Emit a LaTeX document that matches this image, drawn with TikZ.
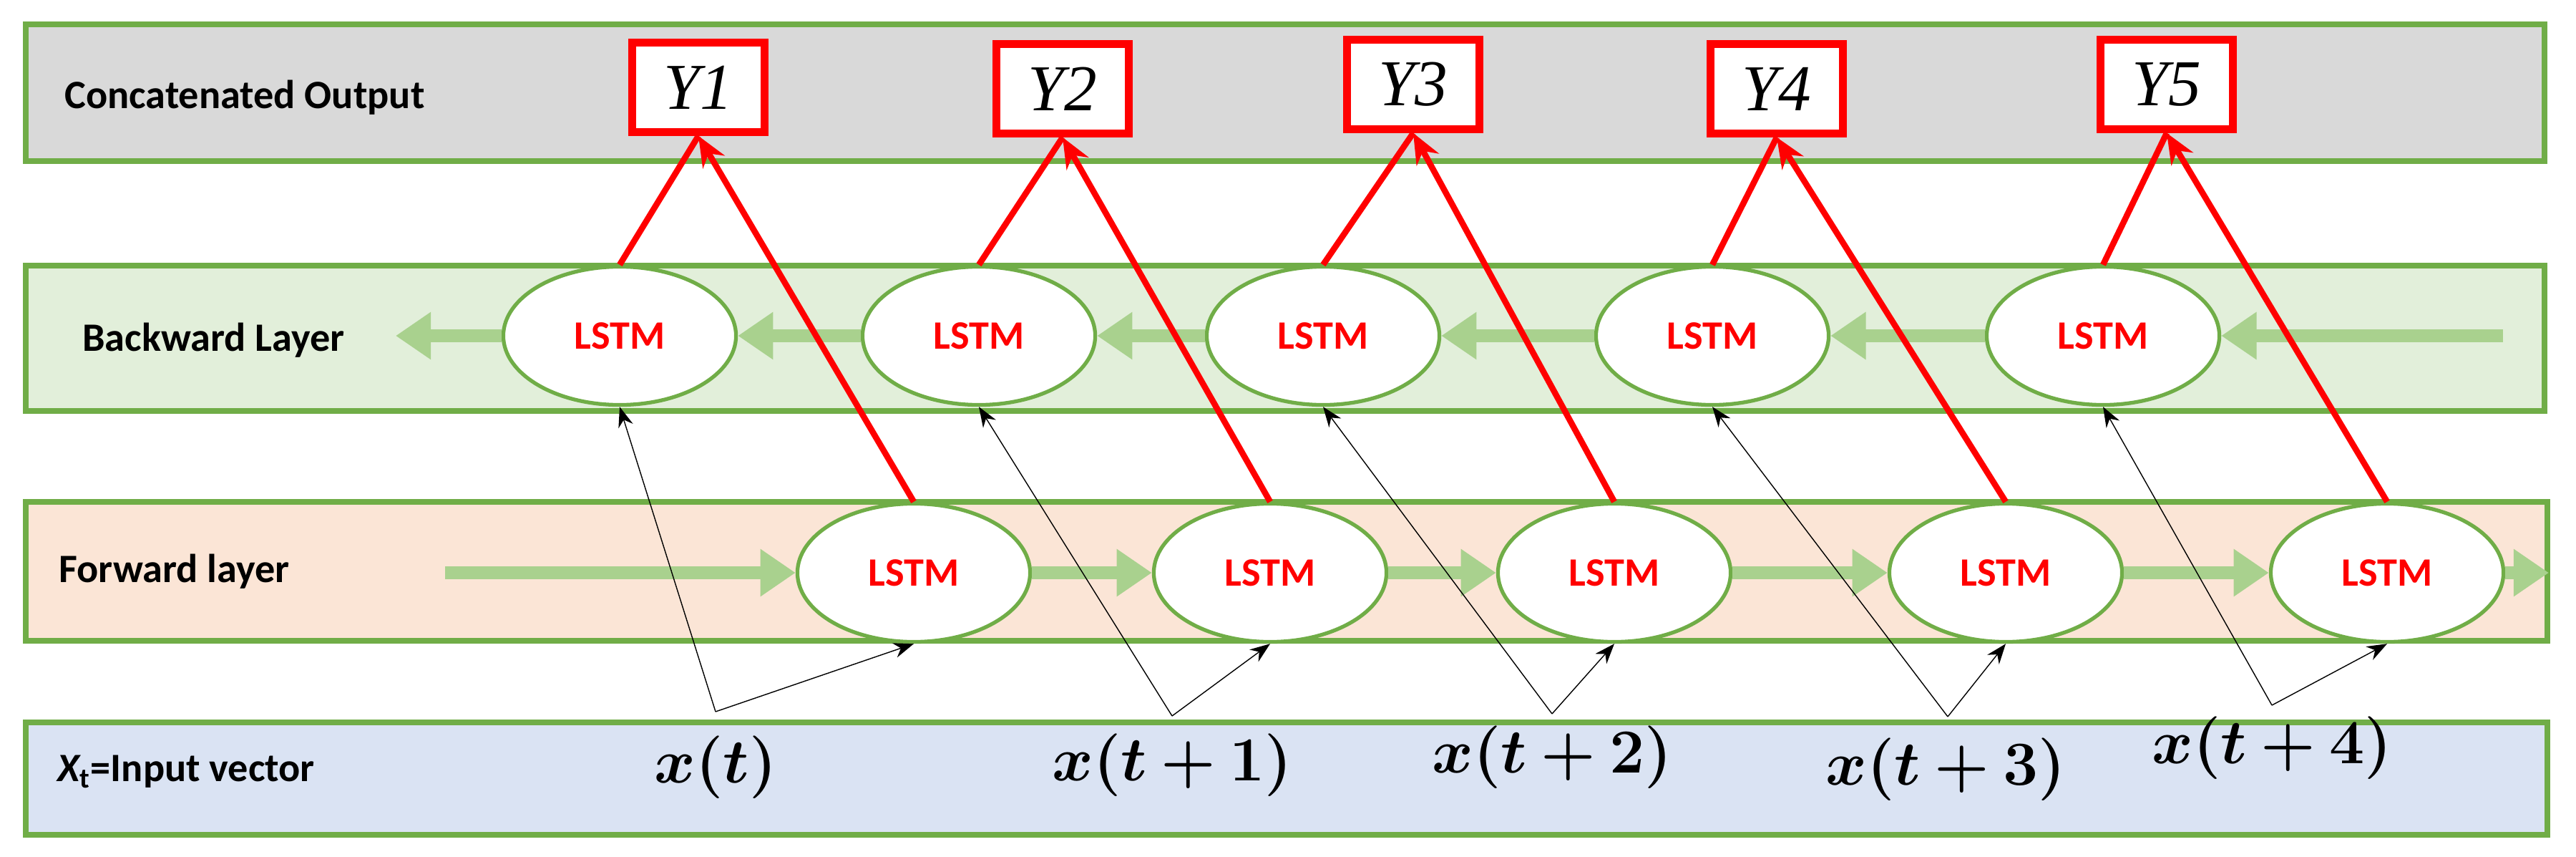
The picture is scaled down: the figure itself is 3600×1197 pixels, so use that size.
\documentclass[tikz,border=0pt]{standalone}
\usepackage{fontspec}
\usepackage{amsmath,bm}
\setsansfont{Carlito}
\newfontfamily\yfont{Liberation Serif}
\usetikzlibrary{arrows.meta,shapes.geometric}
\definecolor{bgreen}{HTML}{70AD47}
\definecolor{lgreen}{HTML}{A9D18E}
\definecolor{outfill}{HTML}{D9D9D9}
\definecolor{backfill}{HTML}{E2EFDA}
\definecolor{fwdfill}{HTML}{FBE5D6}
\definecolor{infill}{HTML}{DAE3F3}
\definecolor{myred}{HTML}{FF0000}
\begin{document}
\begin{tikzpicture}[x=0.01cm,y=-0.01cm,
  band/.style={draw=bgreen,line width=2.2pt},
  lbl/.style={anchor=west,font=\sffamily\bfseries\fontsize{16}{19}\selectfont},
  lstm/.style={ellipse,draw=bgreen,line width=1.5pt,fill=white,minimum width=3.25cm,minimum height=1.93cm,inner sep=0pt,text=myred,font=\sffamily\bfseries\fontsize{16}{19}\selectfont},
  ybox/.style={draw=myred,line width=3pt,fill=white,minimum width=1.85cm,minimum height=1.25cm,inner sep=0pt,font=\yfont\itshape\fontsize{26}{30}\selectfont},
  flow/.style={lgreen,line width=5pt,-{Triangle[length=14pt,width=18pt]}},
  redl/.style={myred,line width=2.4pt},
  reda/.style={myred,line width=2.4pt,-{Stealth[length=12pt,width=10pt]}},
  inp/.style={black,line width=0.4pt,-{Stealth[length=8pt,width=6pt]}},
  xl/.style={font=\fontsize{24}{28}\selectfont}]
\path[use as bounding box] (0,0) rectangle (3600,1197);
% bands
\draw[band,fill=outfill] (36,34) rectangle (3556,225);
\draw[band,fill=backfill] (36,371) rectangle (3556,574);
\draw[band,fill=fwdfill] (36,701) rectangle (3560,895);
\draw[band,fill=infill] (36,1009) rectangle (3560,1166);
\node[lbl] (lo) at (78,136) {Concatenated Output};
\node[lbl] (lb) at (103,475) {Backward Layer};
\node[lbl] (lf) at (70,798) {Forward layer};
\node[lbl] (li) at (68,1078) {\itshape X\textsubscript{\upshape t}\upshape=Input vector};
% Y boxes
\node[ybox] (y1) at (976,122) {Y1};
\node[ybox] (y2) at (1485,124) {Y2};
\node[ybox] (y3) at (1975,118) {Y3};
\node[ybox] (y4) at (2483,124) {Y4};
\node[ybox] (y5) at (3028,118) {Y5};
% LSTMs
\node[lstm] (b1) at (866,469) {LSTM};
\node[lstm] (b2) at (1368,469) {LSTM};
\node[lstm] (b3) at (1849,469) {LSTM};
\node[lstm] (b4) at (2393,469) {LSTM};
\node[lstm] (b5) at (2939,469) {LSTM};
\node[lstm] (f1) at (1277,800) {LSTM};
\node[lstm] (f2) at (1775,800) {LSTM};
\node[lstm] (f3) at (2256,800) {LSTM};
\node[lstm] (f4) at (2803,800) {LSTM};
\node[lstm] (f5) at (3336,800) {LSTM};
% green flows
\coordinate (bin) at (3498,469);
\coordinate (bout) at (553,469);
\coordinate (fin) at (622,800);
\coordinate (fout) at (3562,800);
\draw[flow] (bin) -- (b5);
\draw[flow] (b5) -- (b4);
\draw[flow] (b4) -- (b3);
\draw[flow] (b3) -- (b2);
\draw[flow] (b2) -- (b1);
\draw[flow] (b1) -- (bout);
\draw[flow] (fin) -- (f1);
\draw[flow] (f1) -- (f2);
\draw[flow] (f2) -- (f3);
\draw[flow] (f3) -- (f4);
\draw[flow] (f4) -- (f5);
\draw[flow] (f5) -- (fout);
% inputs
\node[xl] (x1) at (1000,1072) {$\bm{x(t)}$};
\node[xl] (x2) at (1638,1069) {$\bm{x(t+1)}$};
\node[xl] (x3) at (2169,1058) {$\bm{x(t+2)}$};
\node[xl] (x4) at (2719,1075) {$\bm{x(t+3)}$};
\node[xl] (x5) at (3175,1045) {$\bm{x(t+4)}$};
\coordinate (v1) at (1000,994);
\coordinate (v2) at (1638,1000);
\coordinate (v3) at (2169,997);
\coordinate (v4) at (2722,1001);
\coordinate (v5) at (3175,985);
\foreach \i in {1,...,5}{
  \draw[inp] (v\i) -- (b\i.south);
  \draw[inp] (v\i) -- (f\i.south);
}
% red
\foreach \i in {1,...,5}{
  \draw[redl] (b\i.north) -- (y\i.south);
  \draw[reda] (f\i.north) -- (y\i.south);
}
\end{tikzpicture}
\end{document}
